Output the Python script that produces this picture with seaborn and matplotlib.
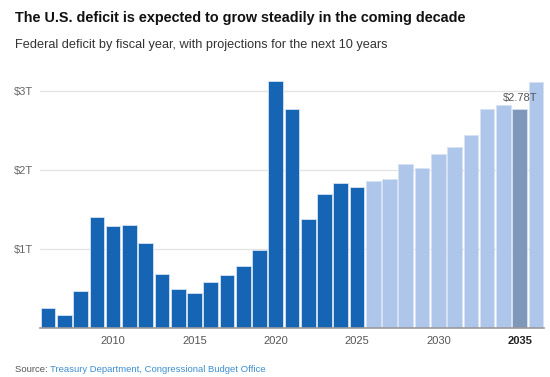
import matplotlib
matplotlib.use("Agg")
import matplotlib.pyplot as plt
import seaborn as sns
import pandas as pd

# fiscal years and deficit in trillions of dollars
years = list(range(2006, 2037))
deficit = [0.25, 0.16, 0.46, 1.41, 1.29, 1.30, 1.08, 0.68, 0.49, 0.44,
           0.58, 0.67, 0.78, 0.98, 3.13, 2.78, 1.38, 1.70, 1.83, 1.78,
           1.86, 1.89, 2.08, 2.02, 2.20, 2.29, 2.45, 2.78, 2.82, 2.78, 3.12]
kind = ["actual"] * 20 + ["projection"] * 9 + ["highlight"] + ["projection"]

tick_years = [2010, 2015, 2020, 2025, 2030, 2035]
y_ticks = [1, 2, 3]
y_labels = ["$1T", "$2T", "$3T"]

colors = {"actual": "#1565b4", "projection": "#aec6ea", "highlight": "#7f97b9"}

df = pd.DataFrame({"year": years, "deficit": deficit, "kind": kind})

sns.set_style("white")
plt.rcParams["font.family"] = ["Liberation Sans", "DejaVu Sans"]

fig = plt.figure(figsize=(5.5, 3.77), dpi=100)
ax = fig.add_axes([40 / 550, 1 - 327.7 / 377, 504 / 550, 252.2 / 377])

sns.barplot(data=df, x="year", y="deficit", hue="kind", palette=colors,
            dodge=False, width=0.9, saturation=1, legend=False,
            edgecolor="#d6e2f3", linewidth=0.6, ax=ax, zorder=2)

ax.set_xlim(-0.5, len(years) - 0.5)
ax.set_ylim(0, 3.2)
ax.set_xlabel("")
ax.set_ylabel("")

# gridlines
ax.set_yticks(y_ticks)
ax.set_yticklabels(y_labels)
ax.yaxis.grid(True, color="#e3e3e3", linewidth=0.9, zorder=0)
ax.set_axisbelow(True)

ticks = [years.index(y) for y in tick_years]
ax.set_xticks(ticks)
ax.set_xticklabels([str(y) for y in tick_years])
for lbl in ax.get_xticklabels():
    if lbl.get_text() == "2035":
        lbl.set_fontweight("bold")
        lbl.set_color("#222222")
    else:
        lbl.set_color("#555555")

ax.tick_params(axis="x", length=0, labelsize=8, pad=6)
ax.tick_params(axis="y", length=0, labelsize=8, pad=5, labelcolor="#666666")

for s in ["top", "right", "left"]:
    ax.spines[s].set_visible(False)
ax.spines["bottom"].set_color("#9a9a9a")
ax.spines["bottom"].set_linewidth(1.2)
ax.spines["bottom"].set_zorder(3)

# label for 2035
i35 = years.index(2035)
ax.annotate(f"${deficit[i35]:.2f}T", (i35, deficit[i35]), xytext=(0, 4),
            textcoords="offset points", ha="center", va="bottom",
            fontsize=8, color="#555555")

fig.text(15 / 550, 1 - 18 / 377, "The U.S. deficit is expected to grow steadily in the coming decade",
         fontsize=10.4, fontweight="bold", color="#111111", va="center")
fig.text(15 / 550, 1 - 45 / 377, "Federal deficit by fiscal year, with projections for the next 10 years",
         fontsize=9.2, color="#333333", va="center")

src = fig.text(15 / 550, 1 - 369 / 377, "Source: ", fontsize=6.8, color="#555555", va="center")
r = fig.canvas.get_renderer()
bb = src.get_window_extent(renderer=r)
fig.text(bb.x1 / fig.bbox.width, 1 - 369 / 377, "Treasury Department, Congressional Budget Office",
         fontsize=6.8, color="#3d8fd1", va="center")

fig.savefig("out.png", dpi=100)
